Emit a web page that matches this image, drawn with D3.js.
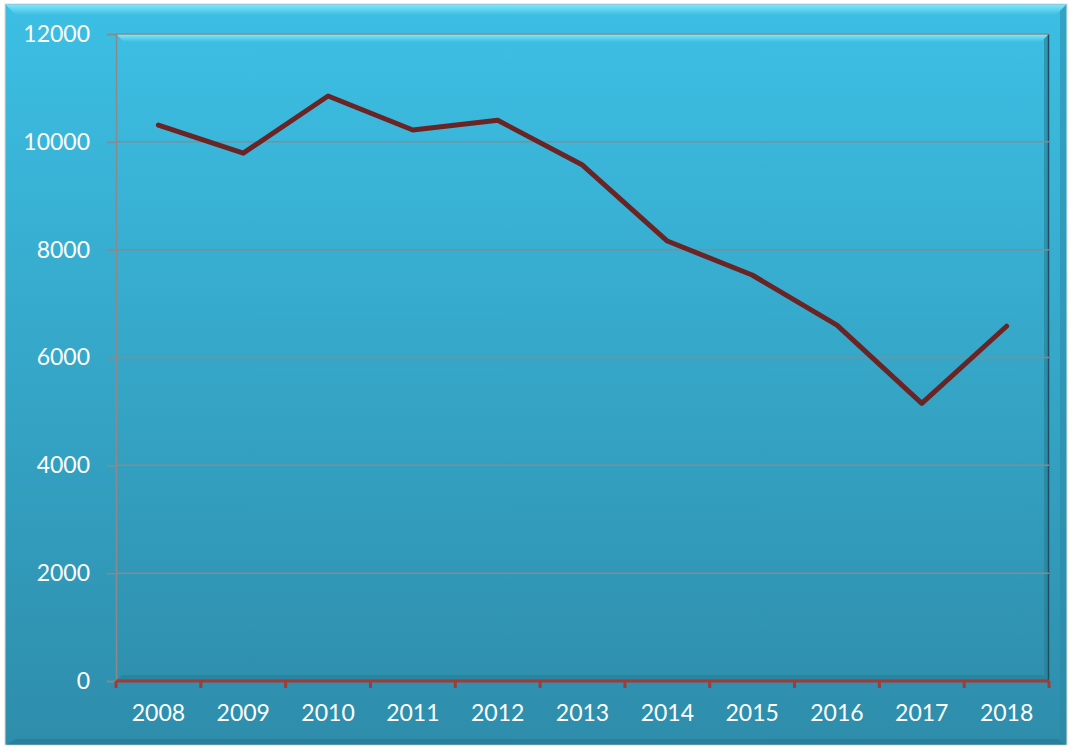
<!DOCTYPE html>
<html>
<head>
<meta charset="utf-8">
<script src="https://cdn.jsdelivr.net/npm/d3@7"></script>
<style>
  body { margin: 0; background: #ffffff; }
  svg { display: block; }
  text { font-family: Lato, "Open Sans", sans-serif; }
</style>
</head>
<body>
<svg id="chart"></svg>
<script>
const years = ["2008", "2009", "2010", "2011", "2012", "2013", "2014", "2015", "2016", "2017", "2018"];
const values = [10310, 9790, 10850, 10220, 10400, 9570, 8160, 7530, 6600, 5150, 6580];
const yTicks = [0, 2000, 4000, 6000, 8000, 10000, 12000];

const width = 1070, height = 747;
const margin = { top: 34, right: 21, bottom: 66, left: 116 };
const innerW = width - margin.left - margin.right;
const innerH = height - margin.top - margin.bottom;

const svg = d3.select("#chart").attr("width", width).attr("height", height);
const defs = svg.append("defs");

const outerGrad = defs.append("linearGradient").attr("id", "outerGrad")
  .attr("x1", 0).attr("y1", 0).attr("x2", 0).attr("y2", 1);
outerGrad.append("stop").attr("offset", "0%").attr("stop-color", "#3cbfe4");
outerGrad.append("stop").attr("offset", "100%").attr("stop-color", "#2e8dab");

const plotGrad = defs.append("linearGradient").attr("id", "plotGrad")
  .attr("x1", 0).attr("y1", 0).attr("x2", 0).attr("y2", 1);
plotGrad.append("stop").attr("offset", "0%").attr("stop-color", "#3cbee3");
plotGrad.append("stop").attr("offset", "100%").attr("stop-color", "#2f90ae");

const topBevel = defs.append("linearGradient").attr("id", "topBevel")
  .attr("x1", 0).attr("y1", 0).attr("x2", 0).attr("y2", 1);
topBevel.append("stop").attr("offset", "0%").attr("stop-color", "#8af0ff");
topBevel.append("stop").attr("offset", "100%").attr("stop-color", "#3cbee3");

// outer chart area
svg.append("rect")
  .attr("x", 5).attr("y", 4)
  .attr("width", width - 8).attr("height", height - 6)
  .attr("fill", "url(#outerGrad)")
  .attr("stroke", "#d9d9d9").attr("stroke-width", 1);
svg.append("polygon")
  .attr("points", `6,5 ${width - 4},5 ${width - 14},15 16,15`)
  .attr("fill", "url(#topBevel)").attr("opacity", 0.8);
svg.append("polygon")
  .attr("points", `16,${height - 8} ${width - 12},${height - 8} ${width - 4},${height - 2} 6,${height - 2}`)
  .attr("fill", "#236f87").attr("opacity", 0.45);
svg.append("polygon")
  .attr("points", `${width - 10},11 ${width - 4},5 ${width - 4},${height - 2} ${width - 10},${height - 8}`)
  .attr("fill", "#2a86a3").attr("opacity", 0.5);

const g = svg.append("g").attr("transform", `translate(${margin.left},${margin.top})`);

// plot area with bevel
g.append("rect").attr("width", innerW).attr("height", innerH).attr("fill", "url(#plotGrad)");
g.append("polygon")
  .attr("points", `0,0 ${innerW},0 ${innerW - 8},8 8,8`)
  .attr("fill", "url(#topBevel)").attr("opacity", 0.9);
g.append("polygon")
  .attr("points", `${innerW - 5},5 ${innerW},0 ${innerW},${innerH} ${innerW - 5},${innerH - 5}`)
  .attr("fill", "#2a7d96").attr("opacity", 0.6);
g.append("line")
  .attr("x1", innerW - 0.5).attr("x2", innerW - 0.5).attr("y1", 0).attr("y2", innerH)
  .attr("stroke", "#1b4f60").attr("stroke-width", 1.5);
g.append("polygon")
  .attr("points", `6,${innerH - 6} ${innerW - 6},${innerH - 6} ${innerW},${innerH} 0,${innerH}`)
  .attr("fill", "#22708a").attr("opacity", 0.4);

const x = d3.scaleBand().domain(years).range([0, innerW]);
const y = d3.scaleLinear().domain([0, 12000]).range([innerH, 0]);

// gridlines
g.append("g")
  .selectAll("line")
  .data(yTicks.filter(d => d > 0))
  .join("line")
  .attr("x1", 0).attr("x2", innerW)
  .attr("y1", d => y(d)).attr("y2", d => y(d))
  .attr("stroke", "#8a8a8a").attr("stroke-width", 1.5);

// y axis
const yAxis = g.append("g")
  .call(d3.axisLeft(y).tickValues(yTicks).tickSize(9).tickPadding(17).tickFormat(d3.format("d")));
yAxis.select(".domain").attr("stroke", "#8a8a8a").attr("stroke-width", 1.5);
yAxis.selectAll(".tick line").attr("stroke", "#8a8a8a").attr("stroke-width", 1.5);
yAxis.selectAll(".tick text")
  .attr("fill", "#ffffff").style("font-size", "23px").style("font-family", "Lato, 'Open Sans', sans-serif");

// x axis
const xAxis = g.append("g").attr("transform", `translate(0,${innerH})`)
  .call(d3.axisBottom(x).tickSize(0).tickPadding(24));
xAxis.select(".domain").remove();
xAxis.selectAll(".tick text")
  .attr("fill", "#ffffff").style("font-size", "23px").style("font-family", "Lato, 'Open Sans', sans-serif");
g.append("line")
  .attr("x1", 0).attr("x2", innerW)
  .attr("y1", innerH).attr("y2", innerH)
  .attr("stroke", "#a03b36").attr("stroke-width", 3);
g.append("g")
  .selectAll("line")
  .data(years.concat(["end"]))
  .join("line")
  .attr("x1", (d, i) => i * x.step()).attr("x2", (d, i) => i * x.step())
  .attr("y1", innerH).attr("y2", innerH + 7)
  .attr("stroke", "#a03b36").attr("stroke-width", 3);

// series line
const line = d3.line()
  .x((d, i) => x(years[i]) + x.bandwidth() / 2)
  .y(d => y(d));
g.append("path")
  .datum(values)
  .attr("d", line)
  .attr("fill", "none")
  .attr("stroke", "#6b2424")
  .attr("stroke-width", 5)
  .attr("stroke-linejoin", "round")
  .attr("stroke-linecap", "round");
</script>
</body>
</html>
